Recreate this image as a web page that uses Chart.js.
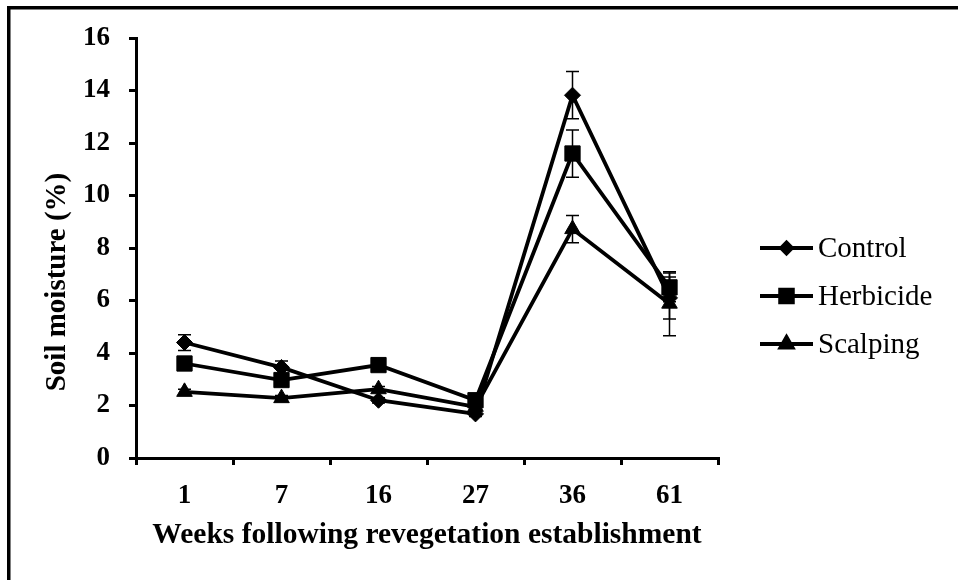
<!DOCTYPE html>
<html><head><meta charset="utf-8">
<script src="https://cdn.jsdelivr.net/npm/chart.js@4.4.1/dist/chart.umd.min.js"></script>
<style>html,body{margin:0;padding:0;background:#fff;}#wrap{width:958px;height:580px;position:relative;}</style>
</head><body><div id="wrap"><canvas id="c" width="958" height="580"></canvas></div>
<script>
const weeks = ['1', '7', '16', '27', '36', '61'];
const controlVals = [4.4, 3.45, 2.2, 1.68, 13.82, 6.1];
const controlErr = [0.3, 0.25, 0.1, 0.1, 0.9, 0.8];
const herbicideVals = [3.6, 2.97, 3.54, 2.2, 11.6, 6.5];
const herbicideErr = [0.1, 0.15, 0.1, 0.1, 0.9, 0.55];
const scalpingVals = [2.52, 2.28, 2.62, 1.95, 8.72, 5.88];
const scalpingErr = [0.1, 0.1, 0.1, 0.1, 0.52, 1.22];
const seriesNames = ['Control', 'Herbicide', 'Scalping'];
const yTitle = 'Soil moisture (%)';
const xTitle = 'Weeks following revegetation establishment';

const SERIF = '"Liberation Serif", "Times New Roman", serif';
const errs = [controlErr, herbicideErr, scalpingErr];
const styles = [
  {pointStyle: 'rectRot', radius: 8, legendRadius: 5.5},
  {pointStyle: 'rect', radius: 10.8, legendRadius: 9},
  {pointStyle: 'triangle', radius: 9, legendRadius: 7}
];
const valsList = [controlVals, herbicideVals, scalpingVals];

const datasets = valsList.map((vals, i) => ({
  label: seriesNames[i],
  data: vals,
  borderColor: '#000',
  backgroundColor: '#000',
  borderWidth: 3.8,
  pointStyle: styles[i].pointStyle,
  pointRadius: styles[i].radius,
  pointHoverRadius: styles[i].radius,
  pointBackgroundColor: '#000',
  pointBorderColor: '#000',
  pointBorderWidth: 1,
  tension: 0,
  fill: false,
  clip: false
}));

const framePlugin = {
  id: 'frame',
  beforeDraw(chart) {
    const ctx = chart.ctx;
    ctx.save();
    ctx.fillStyle = '#fff';
    ctx.fillRect(0, 0, chart.width, chart.height);
    ctx.fillStyle = '#000';
    ctx.fillRect(7, 6, chart.width - 7, 3.5);
    ctx.fillRect(7, 6, 3.5, chart.height - 6);
    ctx.restore();
  }
};

const errorPlugin = {
  id: 'errorBars',
  afterDatasetsDraw(chart) {
    const ctx = chart.ctx;
    const ys = chart.scales.y;
    ctx.save();
    ctx.strokeStyle = '#000';
    ctx.lineWidth = 1.5;
    chart.data.datasets.forEach((ds, i) => {
      const meta = chart.getDatasetMeta(i);
      meta.data.forEach((pt, j) => {
        const v = ds.data[j], e = errs[i][j];
        const yt = ys.getPixelForValue(v + e), yb = ys.getPixelForValue(v - e);
        ctx.beginPath();
        ctx.moveTo(pt.x, yt); ctx.lineTo(pt.x, yb);
        ctx.moveTo(pt.x - 6.5, yt); ctx.lineTo(pt.x + 6.5, yt);
        ctx.moveTo(pt.x - 6.5, yb); ctx.lineTo(pt.x + 6.5, yb);
        ctx.stroke();
      });
    });
    ctx.restore();
  }
};

const extrasPlugin = {
  id: 'extras',
  afterDraw(chart) {
    const ctx = chart.ctx;
    ctx.save();
    ctx.translate(58, 282);
    ctx.rotate(-Math.PI / 2);
    ctx.font = 'bold 29px ' + SERIF;
    ctx.fillStyle = '#000';
    ctx.textAlign = 'center';
    ctx.textBaseline = 'middle';
    ctx.fillText(yTitle, 0, 0);
    ctx.restore();
    ctx.save();
    const rows = [248, 296, 344];
    chart.data.datasets.forEach((ds, i) => {
      const y = rows[i];
      ctx.strokeStyle = '#000';
      ctx.lineWidth = 3.8;
      ctx.beginPath();
      ctx.moveTo(760, y); ctx.lineTo(813, y);
      ctx.stroke();
      ctx.fillStyle = '#000';
      Chart.helpers.drawPoint(ctx, {pointStyle: styles[i].pointStyle, radius: styles[i].legendRadius, borderWidth: 1, rotation: 0}, 786.5, y);
      ctx.font = '29px ' + SERIF;
      ctx.textAlign = 'left';
      ctx.textBaseline = 'middle';
      ctx.fillText(ds.label, 818, y + 1);
    });
    ctx.restore();
  }
};

new Chart(document.getElementById('c'), {
  type: 'line',
  data: {labels: weeks, datasets},
  plugins: [framePlugin, errorPlugin, extrasPlugin],
  options: {
    responsive: false,
    devicePixelRatio: 1,
    animation: false,
    layout: {padding: {top: 38, right: 240, bottom: 0, left: 0}},
    plugins: {legend: {display: false}, tooltip: {enabled: false}},
    scales: {
      x: {
        type: 'category',
        offset: true,
        afterFit(s) { s.height = 122; },
        grid: {offset: true, drawOnChartArea: false, drawTicks: true, tickLength: 7, color: '#000', lineWidth: 3},
        border: {display: true, color: '#000', width: 3},
        ticks: {color: '#000', font: {family: SERIF, size: 27, weight: 'bold'}, padding: 15, maxRotation: 0},
        title: {display: true, text: xTitle, color: '#000', font: {family: SERIF, size: 29.5, weight: 'bold'}, padding: {top: 0, bottom: 27}}
      },
      y: {
        min: 0, max: 16,
        afterFit(s) { s.width = 136; },
        grid: {drawOnChartArea: false, drawTicks: true, tickLength: 7, color: '#000', lineWidth: 3},
        border: {display: true, color: '#000', width: 3},
        ticks: {stepSize: 2, color: '#000', font: {family: SERIF, size: 27, weight: 'bold'}, padding: 19}
      }
    }
  }
});
</script></body></html>
